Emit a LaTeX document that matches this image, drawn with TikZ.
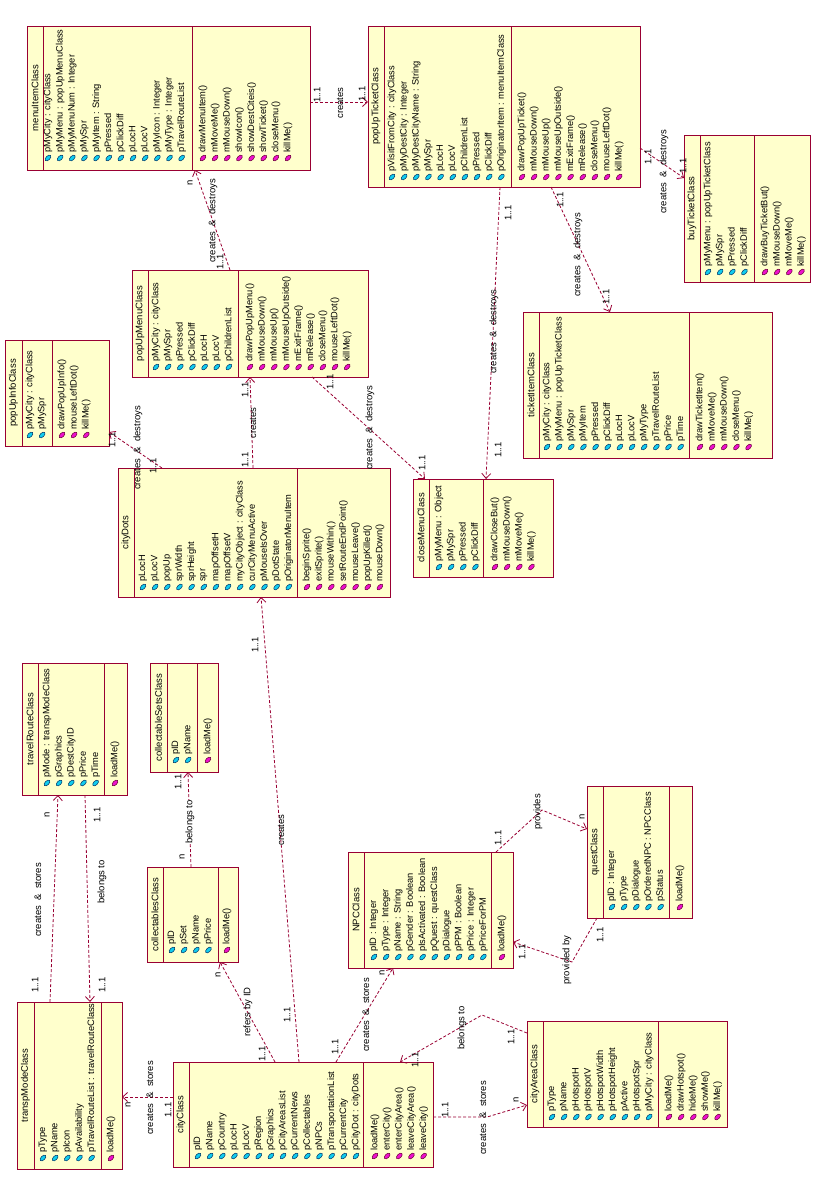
\documentclass[tikz,border=0pt]{standalone}
\usepackage{fontspec}
\setmainfont{Liberation Sans}
\usetikzlibrary{arrows.meta,fit}
\definecolor{boxline}{HTML}{990033}
\definecolor{boxfill}{HTML}{FFFFCC}
\definecolor{depline}{HTML}{990033}
\definecolor{attrfill}{HTML}{11CCEE}
\definecolor{attrline}{HTML}{003366}
\definecolor{methfill}{HTML}{EE11CC}
\definecolor{methline}{HTML}{660033}
\tikzset{
  classbox/.style={draw=boxline, fill=boxfill, line width=1pt, inner sep=0pt, outer sep=0pt},
  divider/.style={draw=boxline, line width=1pt},
  titletext/.style={rotate=90, font=\fontsize{9.5}{11}\selectfont, inner sep=0pt},
  membertext/.style={rotate=90, anchor=west, font=\fontsize{9.3}{11}\selectfont, inner sep=0pt},
  attricon/.style={fill=attrfill, draw=attrline, line width=0.5pt},
  methicon/.style={fill=methfill, draw=methline, line width=0.5pt},
  dep/.style={draw=depline, line width=0.8pt, dash pattern=on 3pt off 2pt, -{Straight Barb[length=5pt,width=9pt]}},
  deptext/.style={rotate=90, font=\fontsize{9.5}{11}\selectfont, inner sep=0.5pt},
}
\newcommand{\umlbox}[8]{%
  \node[classbox, fit={(#2,#3) (#4,#5)}] (#1) {};
  \draw[divider] (#6,0 |- #1.north) -- (#6,0 |- #1.south);
  \draw[divider] (#7,0 |- #1.north) -- (#7,0 |- #1.south);
  \node[titletext] (#1-title) at ({(#2+#6)/2},{(#3+#5)/2}) {#8};
}
\newcommand{\members}[5]{%
  \foreach \mem [count=\i from 0] in {#5} {%
    \pgfmathsetmacro{\xx}{#2+12.15*\i}%
    \path[#4, rotate around={-45:(\xx,#3)}] (\xx,#3) ellipse (2 and 3.6);
    \node[membertext] (#1-\i) at (\xx,#3-5) {\mem};
  }%
}
\newcommand{\deplabel}[3]{\node[deptext] (#1) at (#2) {#3};}
\newcommand{\lblcd}{creates\ \ \&\ \ destroys}
\newcommand{\lblcs}{creates\ \ \&\ \ stores}
\begin{document}
\begin{tikzpicture}[x=1pt,y=-1pt]
\fill[white] (0,0) rectangle (832,1197);
\useasboundingbox (0,0) rectangle (832,1197);

% ---------------- classes ----------------
\umlbox{menuItem}{27}{26}{310}{170}{43}{192}{menuItemClass}
\members{menuItemA}{48}{158}{attricon}{pMyCity : cityClass, pMyMenu : popUpMenuClass, pMyMenuNum : Integer, pMySpr, pMyItem : String, pPressed, pClickDiff, pLocH, pLocV, pMyIcon : Integer, pMyType : Integer, pTravelRouteList}
\members{menuItemM}{203}{158}{methicon}{drawMenuItem(), mMoveMe(), mMouseDown(), showIcon(), showDestCiteis(), showTicket(), closeMenu(), killMe()}

\umlbox{popUpTicket}{368}{26}{640}{187}{384}{511}{popUpTicketClass}
\members{popUpTicketA}{392}{177}{attricon}{pVisitFromCity : cityClass, pMyDestCity : Integer, pMyDestCityName : String, pMySpr, pLocH, pLocV, pChildrenList, pPressed, pClickDiff, pOriginatorItem : menuItemClass}
\members{popUpTicketM}{522}{177}{methicon}{drawPopUpTicket(), mMouseDown(), mMouseUp(), mMouseUpOutside(), mExitFrame(), mRelease(), closeMenu(), mouseLeftDot(), killMe()}

\umlbox{buyTicket}{684}{135}{810}{282}{700}{754}{buyTicketClass}
\members{buyTicketA}{708}{272}{attricon}{pMyMenu : popUpTicketClass, pMySpr, pPressed, pClickDiff}
\members{buyTicketM}{765}{272}{methicon}{drawBuyTicketBut(), mMouseDown(), mMoveMe(), killMe()}

\umlbox{popUpMenu}{132}{270}{368}{377}{148}{238}{popUpMenuClass}
\members{popUpMenuA}{156}{367}{attricon}{pMyCity : cityClass, pMySpr, pPressed, pClickDiff, pLocH, pLocV, pChildrenList}
\members{popUpMenuM}{250}{367}{methicon}{drawPopUpMenu(), mMouseDown(), mMouseUp(), mMouseUpOutside(), mExitFrame(), mRelease(), closeMenu(), mouseLeftDot(), killMe()}

\umlbox{popUpInfo}{5}{340}{109}{446}{22}{52}{popUpInfoClass}
\members{popUpInfoA}{30}{435}{attricon}{pMyCity : cityClass, pMySpr}
\members{popUpInfoM}{62}{435}{methicon}{drawPopUpInfo(), mouseLeftDot(), killMe()}

\umlbox{cityDots}{118}{468}{390}{597}{134}{297}{cityDots}
\members{cityDotsA}{143}{587}{attricon}{pLocH, pLocV, popUp, sprWidth, sprHeight, spr, mapOffsetH, mapOffsetV, myCityObject : cityClass, curCityMenuActive, pMouseIsOver, pDotState, pOriginatorMenuItem}
\members{cityDotsM}{307}{587}{methicon}{beginSprite(), exitSprite(), mouseWithin(), setRouteEndPoint(), mouseLeave(), popUpKilled(), mouseDown()}

\umlbox{ticketItem}{523}{312}{772}{458}{539}{689}{ticketItemClass}
\members{ticketItemA}{547}{447}{attricon}{pMyCity : cityClass, pMyMenu : popUpTicketClass, pMySpr, pMyItem, pPressed, pClickDiff, pLocH, pLocV, pMyType, pTravelRouteList, pPrice, pTime}
\members{ticketItemM}{700}{447}{methicon}{drawTicketItem(), mMoveMe(), mMouseDown(), closeMenu(), killMe()}

\umlbox{closeMenu}{413}{479}{553}{577}{429}{483}{closeMenuClass}
\members{closeMenuA}{439}{567}{attricon}{pMyMenu : Object, pMySpr, pPressed, pClickDiff}
\members{closeMenuM}{495}{567}{methicon}{drawCloseBut(), mMouseDown(), mMoveMe(), killMe()}

\umlbox{travelRoute}{22}{663}{127}{795}{38}{104}{travelRouteClass}
\members{travelRouteA}{47}{783}{attricon}{pMode : transpModeClass, pGraphics, pDestCityID, pPrice, pTime}
\members{travelRouteM}{115}{783}{methicon}{loadMe()}

\umlbox{collSets}{150}{663}{218}{772}{167}{197}{collectableSetsClass}
\members{collSetsA}{176}{760}{attricon}{pID, pName}
\members{collSetsM}{208}{760}{methicon}{loadMe()}

\umlbox{collectables}{147}{867}{238}{962}{163}{218}{collectablesClass}
\members{collectablesA}{172}{950}{attricon}{pID, pSet, pName, pPrice}
\members{collectablesM}{227}{950}{methicon}{loadMe()}

\umlbox{NPC}{348}{852}{513}{968}{364}{491}{NPCClass}
\members{NPCA}{374}{957}{attricon}{pID : Integer, pType : Integer, pName : String, pGender : Boolean, pIsActivated : Boolean, pQuest : questClass, pDialogue, pPPM : Boolean, pPrice : Integer, pPriceForPM}
\members{NPCM}{502}{957}{methicon}{loadMe()}

\umlbox{quest}{587}{786}{692}{918}{603}{669}{questClass}
\members{questA}{612}{907}{attricon}{pID : Integer, pType, pDialogue, pOrderedNPC : NPCClass, pStatus}
\members{questM}{680}{907}{methicon}{loadMe()}

\umlbox{transpMode}{17}{1002}{122}{1169}{34}{101}{transpModeClass}
\members{transpModeA}{43}{1158}{attricon}{pType, pName, pIcon, pAvailability, pTravelRouteList : travelRouteClass}
\members{transpModeM}{111}{1158}{methicon}{loadMe()}

\umlbox{city}{173}{1062}{433}{1167}{189}{363}{cityClass}
\members{cityA}{198}{1156}{attricon}{pID, pName, pCountry, pLocH, pLocV, pRegion, pGraphics, pCityAreasList, pCurrentNews, pCollectables, pNPCs, pTransportationList, pCurrentCity, pCityDot : cityDots}
\members{cityM}{375}{1156}{methicon}{loadMe(), enterCity(), enterCityArea(), leaveCityArea(), leaveCity()}

\umlbox{cityArea}{527}{1021}{727}{1127}{543}{658}{cityAreaClass}
\members{cityAreaA}{552}{1117}{attricon}{pType, pName, pHotspotH, pHotspotV, pHotspotWidth, pHotspotHeight, pActive, pHotspotSpr, pMyCity : cityClass}
\members{cityAreaM}{669}{1117}{methicon}{loadMe(), drawHotspot(), hideMe(), showMe(), killMe()}

% ---------------- bend points ----------------
\coordinate (b14) at (487,1117);
\coordinate (b15) at (482,1015);
\coordinate (b17) at (542,810);
\coordinate (b18) at (572,962);

% ---------------- connectors ----------------
\draw[dep] (menuItem.east |- 0,102) -- (popUpTicket.west |- 0,102);
\draw[dep] (230,0 |- popUpMenu.north) -- (195,0 |- menuItem.south);
\draw[dep] (popUpTicket.east |- 0,148) -- (buyTicket.west |- 0,178);
\draw[dep] (551,0 |- popUpTicket.south) -- (610,0 |- ticketItem.north);
\draw[dep] (500,0 |- popUpTicket.south) -- (486,0 |- closeMenu.north);
\draw[dep] (312,0 |- popUpMenu.south) -- (425,0 |- closeMenu.north);
\draw[dep] (253,0 |- cityDots.north) -- (250,0 |- popUpMenu.south);
\draw[dep] (162,0 |- cityDots.north) -- (popUpInfo.east |- 0,432);
\draw[dep] (299,0 |- city.north) -- (261,0 |- cityDots.south);
\draw[dep] (275,0 |- city.north) -- (220,0 |- collectables.south);
\draw[dep] (191,0 |- collectables.north) -- (188,0 |- collSets.south);
\draw[dep] (city.west |- 0,1097) -- (transpMode.east |- 0,1097);
\draw[dep] (50,0 |- transpMode.north) -- (58,0 |- travelRoute.south);
\draw[dep] (85,0 |- travelRoute.south) -- (90,0 |- transpMode.north);
\draw[dep] (city.east |- 0,1117) -- (b14) -- (cityArea.west |- 0,1105);
\draw[dep] (cityArea.west |- 0,1033) -- (b15) -- (400,0 |- city.north);
\draw[dep] (336,0 |- city.north) -- (393,0 |- NPC.south);
\draw[dep] (496,0 |- NPC.north) -- (b17) -- (quest.west |- 0,829);
\draw[dep] (597,0 |- quest.south) -- (b18) -- (NPC.east |- 0,942);

% ---------------- labels ----------------
\deplabel{l1a}{317,95}{1..1}
\deplabel{l1b}{340,103}{creates}
\deplabel{l1c}{362,94}{1..1}
\deplabel{l2a}{190,183}{n}
\deplabel{l2b}{213,221}{\lblcd}
\deplabel{l2c}{220,262}{1..1}
\deplabel{l3a}{648,157}{1..1}
\deplabel{l3b}{664,172}{\lblcd}
\deplabel{l3c}{683,166}{1..1}
\deplabel{l4a}{560,200}{1..1}
\deplabel{l4b}{578,255}{\lblcd}
\deplabel{l4c}{606,297}{1..1}
\deplabel{l5a}{508,213}{1..1}
\deplabel{l5b}{494,332}{\lblcd}
\deplabel{l5c}{498,450}{1..1}
\deplabel{l6a}{330,382}{1..1}
\deplabel{l6b}{370,428}{\lblcd}
\deplabel{l6c}{422,463}{1..1}
\deplabel{l7a}{245,390}{1..1}
\deplabel{l7b}{253,423}{creates}
\deplabel{l7c}{245,460}{1..1}
\deplabel{l8a}{112,440}{1..1}
\deplabel{l8b}{138,448}{\lblcd}
\deplabel{l8c}{153,466}{1..1}
\deplabel{l9a}{255,645}{1..1}
\deplabel{l9b}{281,830}{creates}
\deplabel{l9c}{287,1015}{1..1}
\deplabel{l10a}{218,975}{n}
\deplabel{l10b}{248,1012}{refers by ID}
\deplabel{l10c}{262,1054}{1..1}
\deplabel{l11a}{178,782}{1..1}
\node[deptext, fill=white] (l11b) at (190,822) {belongs to};
\deplabel{l11c}{182,857}{n}
\deplabel{l12a}{128,1105}{n}
\deplabel{l12b}{150,1098}{\lblcs}
\deplabel{l12c}{168,1110}{1..1}
\deplabel{l13a}{47,815}{n}
\deplabel{l13b}{38,900}{\lblcs}
\deplabel{l13c}{35,985}{1..1}
\deplabel{l13d}{97,815}{1..1}
\deplabel{l13e}{102,882}{belongs to}
\deplabel{l13f}{102,985}{1..1}
\deplabel{l14a}{445,1110}{1..1}
\deplabel{l14b}{483,1118}{\lblcs}
\deplabel{l14c}{516,1100}{n}
\deplabel{l15a}{511,1037}{1..1}
\deplabel{l15b}{462,1028}{belongs to}
\deplabel{l15c}{415,1060}{1..1}
\deplabel{l16a}{382,973}{n}
\deplabel{l16b}{366,1015}{\lblcs}
\deplabel{l16c}{335,1047}{1..1}
\deplabel{l17a}{498,838}{1..1}
\deplabel{l17b}{538,812}{provides}
\deplabel{l17c}{582,817}{n}
\deplabel{l18a}{600,935}{1..1}
\deplabel{l18b}{567,960}{provided by}
\deplabel{l18c}{522,952}{1..1}
\end{tikzpicture}
\end{document}
